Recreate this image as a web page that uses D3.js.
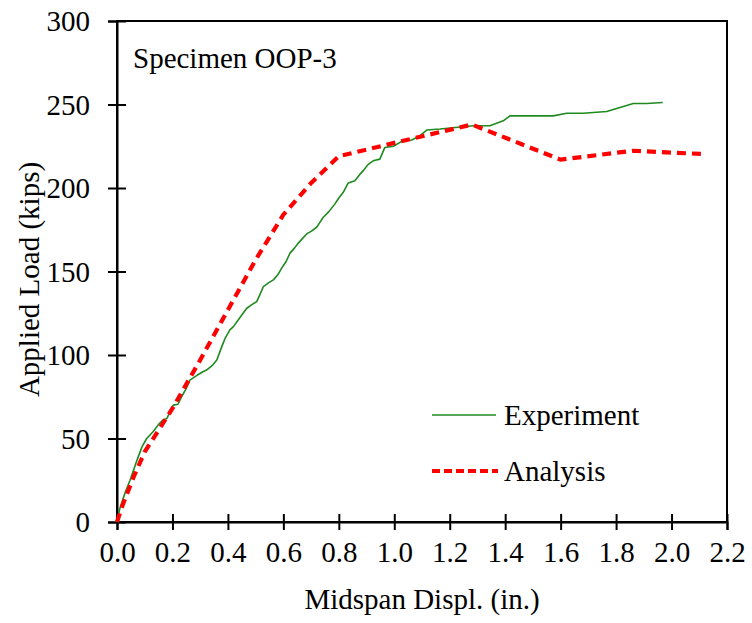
<!DOCTYPE html>
<html>
<head>
<meta charset="utf-8">
<script src="https://cdn.jsdelivr.net/npm/d3@7/dist/d3.min.js"></script>
<style>
  html, body { margin: 0; padding: 0; background: #fff; }
  svg { display: block; }
  svg text { font-family: "Liberation Serif", Tinos, "Times New Roman", Times, "DejaVu Serif", serif !important; fill: #000; }
</style>
</head>
<body>
<svg id="chart" width="752" height="623"></svg>
<script>
// Load–displacement response, specimen OOP-3
const specimenLabel = "Specimen OOP-3";
const xTicks = [0, 0.2, 0.4, 0.6, 0.8, 1.0, 1.2, 1.4, 1.6, 1.8, 2.0, 2.2];
const yTicks = [0, 50, 100, 150, 200, 250, 300];

// Experiment: midspan displacement (in.) and applied load (kips)
const expDispl = [0, 0.01, 0.03, 0.047, 0.07, 0.09, 0.107, 0.13, 0.148, 0.165, 0.18, 0.203, 0.22, 0.233, 0.25, 0.263,
  0.29, 0.31, 0.323, 0.345, 0.36, 0.378, 0.39, 0.407, 0.42, 0.437, 0.45, 0.468, 0.485, 0.504, 0.515, 0.528, 0.545, 0.564,
  0.58, 0.594, 0.61, 0.624, 0.64, 0.654, 0.67, 0.684, 0.7, 0.72, 0.73, 0.744, 0.765, 0.786, 0.8, 0.816, 0.834, 0.858,
  0.875, 0.888, 0.905, 0.924, 0.948, 0.966, 0.997, 1.033, 1.063, 1.093, 1.117, 1.165, 1.285, 1.345, 1.393, 1.417,
  1.573, 1.622, 1.682, 1.766, 1.814, 1.862, 1.91, 1.968];
const expLoad = [0, 8, 18, 25, 36, 45, 50, 54, 58, 61, 62, 70, 70.5, 75, 80, 85,
  88, 90, 91, 94, 97, 105, 110, 115, 117, 121, 124, 128, 130, 132, 136, 141, 143, 145,
  148, 152, 156, 161, 164, 167, 170, 172.5, 174, 176.5, 179, 182.5, 186, 190.5, 194, 197.4, 203, 204.4,
  208, 210.4, 214, 216.3, 217.3, 224.3, 225, 228.5, 228.7, 231.3, 234.7, 235.3, 237.3, 237.3, 240.2, 243.2,
  243.2, 244.8, 244.8, 245.8, 248.2, 250.6, 250.6, 251.2];

// Analysis: midspan displacement (in.) and applied load (kips)
const anaDispl = [0, 0.02, 0.06, 0.1, 0.2, 0.3, 0.4, 0.5, 0.6, 0.7, 0.8, 1.0, 1.28, 1.6, 1.86, 2.12];
const anaLoad = [0, 10, 27, 42, 68, 97, 127, 157, 184, 203, 219, 227, 238, 217, 222.3, 220.3];

const serif = '"Liberation Serif", Tinos, "Times New Roman", Times, "DejaVu Serif", serif';
const svg = d3.select("#chart");
const margin = { left: 117, right: 25, top: 21, bottom: 101 };
const W = 752, H = 623;
const x = d3.scaleLinear().domain([0, 2.2]).range([margin.left, W - margin.right]);
const y = d3.scaleLinear().domain([0, 300]).range([H - margin.bottom, margin.top]);

const fontSize = 29;

// frame
svg.append("rect")
  .attr("x", x(0)).attr("y", y(300))
  .attr("width", x(2.2) - x(0)).attr("height", y(0) - y(300))
  .attr("fill", "none").attr("stroke", "#000").attr("stroke-width", 2);

// x axis (ticks cross the axis line)
const gx = svg.append("g").attr("transform", `translate(0,${y(0)})`)
  .call(d3.axisBottom(x).tickValues(xTicks).tickFormat(d3.format(".1f")).tickSize(8).tickPadding(12))
  .attr("font-family", serif);
gx.select(".domain").attr("stroke-width", 2);
gx.selectAll(".tick line").attr("y1", -8).attr("y2", 8).attr("stroke-width", 2);
gx.selectAll(".tick text").attr("font-size", fontSize).attr("font-family", serif).attr("dy", "0.68em");

// y axis
const gy = svg.append("g").attr("transform", `translate(${x(0)},0)`)
  .call(d3.axisLeft(y).tickValues(yTicks).tickFormat(d3.format("d")).tickSize(9).tickPadding(18))
  .attr("font-family", serif);
gy.select(".domain").attr("stroke-width", 2);
gy.selectAll(".tick line").attr("x1", 9).attr("x2", -9).attr("stroke-width", 2);
gy.selectAll(".tick text").attr("font-size", fontSize).attr("font-family", serif).attr("dy", "0.34em");

// axis titles
svg.append("text")
  .attr("x", (x(0) + x(2.2)) / 2).attr("y", 609)
  .attr("text-anchor", "middle").attr("font-size", fontSize).attr("font-family", serif)
  .text("Midspan Displ. (in.)");
svg.append("text")
  .attr("transform", `translate(39,${(y(0) + y(300)) / 2 + 8}) rotate(-90)`)
  .attr("text-anchor", "middle").attr("font-size", fontSize).attr("font-family", serif)
  .text("Applied Load (kips)");

// specimen label
svg.append("text").attr("x", 133).attr("y", 68)
  .attr("font-size", fontSize).attr("font-family", serif).text(specimenLabel);

const line = d3.line().x(d => x(d[0])).y(d => y(d[1]));
const expData = expDispl.map((d, i) => [d, expLoad[i]]);
const anaData = anaDispl.map((d, i) => [d, anaLoad[i]]);

svg.append("path").datum(expData)
  .attr("d", line).attr("fill", "none")
  .attr("stroke", "#1f8a1f").attr("stroke-width", 1.6).attr("stroke-linejoin", "round");

svg.append("path").datum(anaData)
  .attr("d", line).attr("fill", "none")
  .attr("stroke", "#ff0000").attr("stroke-width", 4.2)
  .attr("stroke-dasharray", "9,6");

// legend
const legend = svg.append("g");
legend.append("line").attr("x1", 432).attr("x2", 496).attr("y1", 415).attr("y2", 415)
  .attr("stroke", "#1f8a1f").attr("stroke-width", 1.6);
legend.append("text").attr("x", 504).attr("y", 425)
  .attr("font-size", fontSize).attr("font-family", serif).text("Experiment");
legend.append("line").attr("x1", 432).attr("x2", 498).attr("y1", 471).attr("y2", 471)
  .attr("stroke", "#ff0000").attr("stroke-width", 4.2).attr("stroke-dasharray", "8,4");
legend.append("text").attr("x", 504).attr("y", 481)
  .attr("font-size", fontSize).attr("font-family", serif).text("Analysis");
</script>
</body>
</html>
